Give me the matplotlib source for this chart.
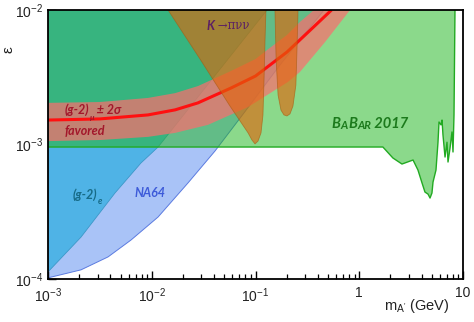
import matplotlib
matplotlib.use('Agg')
import matplotlib.pyplot as plt
import numpy as np
from matplotlib.ticker import LogLocator, NullFormatter, FixedLocator, FixedFormatter

plt.rcParams['font.family'] = ['Liberation Sans', 'DejaVu Sans']
plt.rcParams['mathtext.fontset'] = 'dejavusans'

# ---------------- data ----------------
x_limits = [1e-3, 10.0]
y_limits = [1e-4, 1e-2]
x_ticks = [1e-3, 1e-2, 1e-1, 1, 10]
x_tick_labels = [r'$\mathdefault{10^{-3}}$', r'$\mathdefault{10^{-2}}$', r'$\mathdefault{10^{-1}}$', '1', '10']
y_ticks = [1e-4, 1e-3, 1e-2]
y_tick_labels = [r'$\mathdefault{10^{-4}}$', r'$\mathdefault{10^{-3}}$', r'$\mathdefault{10^{-2}}$']

# (g-2)_e excluded region: lower-right boundary
g2e_mass = [1e-3, 2.08e-3, 4.42e-3, 7.87e-3, 0.0115, 0.0389, 0.129]
g2e_eps = [1.13e-4, 2.05e-4, 4.36e-4, 7.29e-4, 9.58e-4, 3.12e-3, 1e-2]

# NA64 excluded region: lower-right boundary
na64_mass = [1e-3, 2.08e-3, 3.79e-3, 6.31e-3, 0.0115, 0.0223, 0.0407, 0.0709, 0.172, 0.457]
na64_eps = [1.02e-4, 1.17e-4, 1.46e-4, 1.95e-4, 2.89e-4, 5.17e-4, 8.95e-4, 1.57e-3, 3.90e-3, 1e-2]

# BaBar 2017 excluded region: lower boundary (then up the right edge)
babar_mass = [1e-3, 1.69, 2.11, 2.58, 3.30, 3.68, 4.03, 4.30, 4.60, 4.81, 5.02, 5.14,
              5.49, 5.74, 5.87, 6.14, 6.28, 6.41, 6.71, 7.01, 7.17, 7.50, 7.83, 8.01,
              8.19, 8.37]
babar_eps = [9.58e-4, 9.58e-4, 7.94e-4, 7.16e-4, 7.67e-4, 6.46e-4, 5.17e-4, 4.43e-4,
             4.28e-4, 4.00e-4, 4.36e-4, 5.26e-4, 6.46e-4, 1.04e-3, 1.47e-3, 1.40e-3,
             1.52e-3, 1.18e-3, 8.07e-4, 1.04e-3, 7.41e-4, 9.42e-4, 1.24e-3, 8.80e-4,
             1.66e-3, 1e-2]

# (g-2)_mu favoured band
g2mu_mass = [1e-3, 3.17e-3, 9.2e-3, 0.0168, 0.0279, 0.058, 0.1, 0.201, 0.33, 0.54]
g2mu_eps = [1.52e-3, 1.55e-3, 1.66e-3, 1.81e-3, 2.04e-3, 2.63e-3, 3.23e-3, 4.87e-3, 6.98e-3, 1e-2]
g2mu_up_mass = [1e-3, 3.17e-3, 9.2e-3, 0.0168, 0.0279, 0.058, 0.1, 0.129, 0.201, 0.268, 0.366]
g2mu_up_eps = [2.04e-3, 2.07e-3, 2.22e-3, 2.41e-3, 2.72e-3, 3.52e-3, 4.32e-3, 5.04e-3, 6.52e-3, 8.15e-3, 1e-2]
g2mu_lo_mass = [1e-3, 3.17e-3, 9.2e-3, 0.0168, 0.0348, 0.0848, 0.2056, 0.268, 0.468, 0.815]
g2mu_lo_eps = [1.06e-3, 1.08e-3, 1.14e-3, 1.22e-3, 1.40e-3, 1.90e-3, 2.92e-3, 3.46e-3, 5.78e-3, 1e-2]

# K -> pi nu nu excluded lobes
k1_mass = [0.01436, 0.0292, 0.0568, 0.0848, 0.0924, 0.0989, 0.1057, 0.113, 0.118, 0.1208, 0.1235, 0.126]
k1_eps = [1e-2, 4.32e-3, 1.93e-3, 1.22e-3, 1.08e-3, 1.01e-3, 1.06e-3, 1.22e-3, 1.66e-3, 3.02e-3, 5.98e-3, 1e-2]
k2_mass = [0.154, 0.158, 0.165, 0.176, 0.188, 0.201, 0.215, 0.2295, 0.245, 0.251, 0.257]
k2_eps = [1e-2, 4.25e-3, 2.33e-3, 1.80e-3, 1.66e-3, 1.63e-3, 1.69e-3, 1.93e-3, 2.77e-3, 5.04e-3, 1e-2]

# ---------------- figure ----------------
fig = plt.figure(figsize=(4.74, 3.22), dpi=100)
ax = fig.add_axes([0.1013, 0.1335, 0.8755, 0.8354])
ax.set_xscale('log')
ax.set_yscale('log')
ax.set_xlim(*x_limits)
ax.set_ylim(*y_limits)

x0, y1 = x_limits[0], y_limits[1]

# NA64
ax.fill(na64_mass + [x0], na64_eps + [y1], facecolor='#a9c3f7', edgecolor='none', zorder=1)
ax.plot(na64_mass, na64_eps, color='#5b7be0', lw=0.7, zorder=1.1)
# (g-2)_e
ax.fill(g2e_mass + [x0], g2e_eps + [y1], facecolor='#4fb3e6', edgecolor='none', zorder=2)
ax.plot(g2e_mass, g2e_eps, color='#3c98c8', lw=0.6, zorder=2.1)
# BaBar
ax.fill(babar_mass + [x0], babar_eps + [y1], facecolor='#21b621', alpha=0.52,
        edgecolor='none', zorder=3)
ax.plot(babar_mass, babar_eps, color='#22aa22', lw=1.0, zorder=3.1)
# (g-2)_mu band
ax.fill(g2mu_up_mass + g2mu_lo_mass[::-1], g2mu_up_eps + g2mu_lo_eps[::-1],
        facecolor='#fa6e6e', alpha=0.72, edgecolor='none', zorder=4)
ax.plot(g2mu_mass, g2mu_eps, color='#ff1010', lw=2.2, zorder=5, solid_capstyle='butt')
# K -> pi nu nu
for km, ke in ((k1_mass, k1_eps), (k2_mass, k2_eps)):
    ax.fill(km, ke, facecolor='#e1640a', alpha=0.62, edgecolor='#a85a10', lw=0.6, zorder=6)

# ---------------- axes styling ----------------
ax.xaxis.set_major_locator(FixedLocator(x_ticks))
ax.xaxis.set_major_formatter(FixedFormatter(x_tick_labels))
ax.yaxis.set_major_locator(FixedLocator(y_ticks))
ax.yaxis.set_major_formatter(FixedFormatter(y_tick_labels))
for axis in (ax.xaxis, ax.yaxis):
    axis.set_minor_locator(LogLocator(base=10, subs=np.arange(2, 10) * 1.0, numticks=20))
    axis.set_minor_formatter(NullFormatter())
ax.tick_params(which='both', direction='in', top=False, right=False, color='black')
ax.tick_params(which='major', length=6, width=1.0, labelsize=10, pad=3.5, labelcolor='#222222')
ax.tick_params(axis='x', which='major', pad=5)
ax.tick_params(which='minor', length=3.5, width=0.9)
for sp in ax.spines.values():
    sp.set_linewidth(1.3)
    sp.set_zorder(10)

ax.set_ylabel('ε', fontsize=11, rotation=90, color='#222222')
ax.yaxis.set_label_coords(-0.0795, 0.851)
ax.set_xlabel(r"m$_{\mathregular{A'}}$ (GeV)", fontsize=10.5, color='#222222')
ax.xaxis.set_label_coords(0.889, -0.067)

# ---------------- annotations ----------------
ann_font = ['Lato', 'DejaVu Sans']


def chain(pieces, x, y, color):
    prev = None
    for s, size, style, weight, dy, fam in pieces:
        kw = dict(color=color, fontsize=size, fontstyle=style, fontweight=weight,
                  family=fam, zorder=12)
        if prev is None:
            prev = ax.text(x, y, s, transform=ax.transAxes, ha='left', va='center', **kw)
        else:
            prev = ax.annotate(s, xy=(1, 0), xycoords=prev, xytext=(0, dy),
                               textcoords='offset points', ha='left', va='bottom', **kw)
    return prev


chain([('(g-2)', 9, 'italic', 'bold', 0, ann_font),
       ('μ', 6, 'italic', 'bold', -3, ann_font),
       (' ± 2σ', 9, 'italic', 'bold', 3, ann_font)], 0.041, 0.628, '#a3172b')
ax.text(0.041, 0.55, 'favored', transform=ax.transAxes, ha='left', va='center',
        color='#a3172b', fontsize=9, fontstyle='italic', fontweight='bold',
        family=ann_font, zorder=12)
chain([('K', 9, 'italic', 'bold', 0, ann_font),
       (' →πνν', 8.5, 'normal', 'normal', 0, ['DejaVu Serif'])], 0.381, 0.9405, '#5c2064')
chain([('B', 10.5, 'italic', 'bold', 0, ann_font),
       ('A', 8, 'italic', 'bold', 0, ann_font),
       ('B', 10.5, 'italic', 'bold', 0, ann_font),
       ('AR', 8, 'italic', 'bold', 0, ann_font),
       (' 2017', 10.5, 'italic', 'bold', 0, ann_font)], 0.684, 0.576, '#1c7a1c')
chain([('(g-2)', 9, 'italic', 'bold', 0, ann_font),
       ('e', 6.5, 'italic', 'bold', -3, ann_font)], 0.060, 0.312, '#176b87')
ax.text(0.2096, 0.32, 'NA64', transform=ax.transAxes, ha='left', va='center',
        color='#3d5bd9', fontsize=9, fontstyle='italic', fontweight='bold',
        family=ann_font, zorder=12)

fig.savefig('out.png', dpi=100)
